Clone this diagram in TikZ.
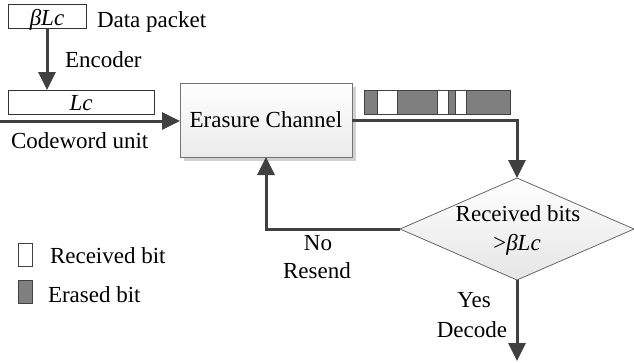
\documentclass[tikz,border=0pt]{standalone}
\usepackage{fontspec}
\setmainfont{Liberation Serif}
\usetikzlibrary{arrows.meta,shapes.geometric,shadows}
\definecolor{arrgray}{HTML}{404040}
\definecolor{bitgray}{HTML}{7F7F7F}
\begin{document}
\begin{tikzpicture}[x=1pt,y=-1pt,
  every node/.style={font=\fontsize{23}{27}\selectfont, inner sep=0pt, outer sep=0pt},
  arr/.style={draw=arrgray, line width=3pt, -{Triangle[length=18pt,width=17pt]}},
  pbox/.style={draw=black!80, line width=0.9pt, fill=white, rectangle},
  lbl/.style={anchor=base west},
  clbl/.style={anchor=base},
  bit/.style={draw=arrgray, line width=0.9pt}
]
\useasboundingbox (0,0) rectangle (634,362);

% data packet
\node[pbox, minimum width=78pt, minimum height=24pt] (dp) at (47,16) {};
\node[clbl] (dpt) at (47,25) {\textit{βLc}};
\node[lbl] (dpl) at (97,27) {Data packet};

% codeword box
\node[pbox, minimum width=146pt, minimum height=24pt] (lc) at (81,102) {};
\node[clbl] (lct) at (81,110) {\textit{Lc}};
\draw[arr] (dp.south) -- (dp.south |- lc.north);
\node[lbl] (enc) at (65,67) {Encoder};
\node[lbl] (cwu) at (11,148) {Codeword unit};

% erasure channel
\fill[black!18] (184,87) rectangle (356,161);
\node[draw=black!55, line width=0.8pt, top color=white, bottom color=black!8,
      minimum width=172pt, minimum height=74pt] (ec) at (266,120) {};
\node[clbl] (ect) at (266,127) {Erasure Channel};
\coordinate (src) at (0,121);
\draw[arr] (src) -- (src -| ec.west);

% bits bar
\fill[bitgray] (364,90) rectangle (510,114);
\fill[white] (377,90) rectangle (397,114);
\fill[white] (437,90) rectangle (448,114);
\fill[white] (455,90) rectangle (466,114);
\draw[arrgray, line width=0.7pt] (377,90) -- (377,114) (397,90) -- (397,114)
  (437,90) -- (437,114) (448,90) -- (448,114) (455,90) -- (455,114) (466,90) -- (466,114);
\draw[arrgray, line width=0.9pt] (364,90) rectangle (510,114);

% diamond
\node[diamond, draw=black!60, line width=0.8pt, top color=white, bottom color=black!10,
      minimum width=234pt, minimum height=102pt] (dm) at (517,229) {};
\node[clbl] (dmt1) at (518,221) {Received bits};
\node[clbl] (dmt2) at (517,250) {>\textit{βLc}};

\draw[arr] (ec.east) -| (dm.north);
\draw[arr] (dm.west) -| (ec.south);
\coordinate (dec) at (517,361);
\draw[arr] (dm.south) -- (dec);

\node[clbl] (no) at (318,250) {No};
\node[clbl] (rs) at (317,278) {Resend};
\node[clbl] (yes) at (474,307) {Yes};
\node[clbl] (dc) at (472,337) {Decode};

% legend
\node[draw=arrgray, line width=0.9pt, fill=white, minimum width=14pt, minimum height=23pt] (lr) at (25,255) {};
\node[lbl] (lrt) at (50,263) {Received bit};
\node[draw=arrgray, line width=0.9pt, fill=bitgray, minimum width=14pt, minimum height=23pt] (le) at (25,292) {};
\node[lbl] (let) at (48,302) {Erased bit};
\end{tikzpicture}
\end{document}
